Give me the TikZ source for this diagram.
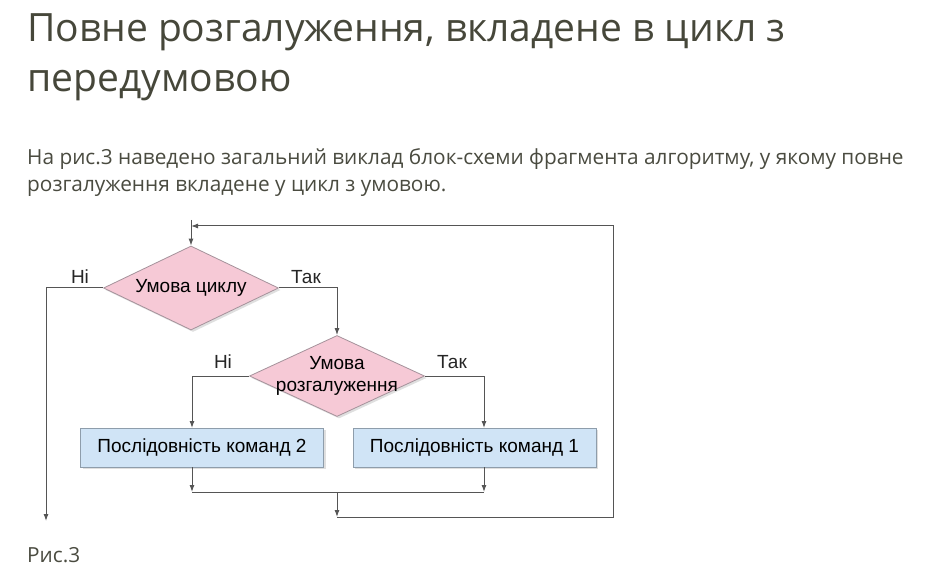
\documentclass[tikz,border=0pt]{standalone}
\usepackage{fontspec}
\setmainfont{Open Sans}
\newfontfamily\schemefont{Liberation Sans}
\usetikzlibrary{arrows.meta,shapes.geometric,shadows}
\definecolor{titlegray}{HTML}{46473A}
\definecolor{textgray}{HTML}{4A4B40}
\definecolor{condpink}{HTML}{F6C9D6}
\definecolor{condline}{HTML}{A5929B}
\definecolor{blockblue}{HTML}{D0E4F6}
\definecolor{blockline}{HTML}{8E9DAB}
\definecolor{flowgray}{HTML}{555555}
\tikzset{
  cond/.style={diamond,aspect=2.08,draw=condline,fill=condpink,line width=0.8pt,inner sep=0pt,
    minimum width=175pt,minimum height=84pt,align=center,
    font=\schemefont\fontsize{19}{22}\selectfont,
    drop shadow={shadow xshift=2pt,shadow yshift=-2pt,opacity=0.25}},
  cmdblock/.style={rectangle,draw=blockline,fill=blockblue,line width=0.8pt,
    minimum width=243pt,minimum height=39pt,inner sep=0pt,
    font=\schemefont\fontsize{19}{22}\selectfont,
    drop shadow={shadow xshift=2pt,shadow yshift=-2pt,opacity=0.25}},
  flowline/.style={draw=flowgray,line width=1pt},
  flowarrow/.style={flowline,-{Latex[length=7pt,width=5pt]}},
  branchlabel/.style={anchor=base,inner sep=0pt,text=black!85,
    font=\schemefont\fontsize{19}{22}\selectfont}
}
\begin{document}
\begin{tikzpicture}[x=1pt,y=-1pt]
\useasboundingbox[fill=white] (0,0) rectangle (940,577);
% heading and text
\node[anchor=base west,inner sep=0pt,text=titlegray,font=\fontsize{39}{50}\selectfont] (title1) at (27,42) {Повне розгалуження, вкладене в цикл з};
\node[anchor=base west,inner sep=0pt,text=titlegray,font=\fontsize{39}{50}\selectfont] (title2) at (27,92) {передумовою};
\node[anchor=base west,inner sep=0pt,text=textgray,font=\fontsize{20.8}{27}\selectfont] (para1) at (27,165) {На рис.3 наведено загальний виклад блок-схеми фрагмента алгоритму, у якому повне};
\node[anchor=base west,inner sep=0pt,text=textgray,font=\fontsize{20.8}{27}\selectfont] (para2) at (27,192) {розгалуження вкладене у цикл з умовою.};
\node[anchor=base west,inner sep=0pt,text=textgray,font=\fontsize{20.8}{27}\selectfont] (caption) at (27,562) {Рис.3};
% blocks
\node[cond] (loopcond) at (191,288) {Умова циклу};
\node[cond,minimum height=81pt,inner xsep=0pt,inner ysep=-11pt] (innercond) at (337,376) {Умова\\розгалуження};
\node[cmdblock] (block2) at (202,447.5) {Послідовність команд 2};
\node[cmdblock] (block1) at (474.5,447.5) {Послідовність команд 1};
% points of the lines
\coordinate (loopin) at (191,220);
\coordinate (loopback) at (191,226);
\coordinate (loopcorner) at (613,226);
\coordinate (exit) at (46,521);
\coordinate (b2in) at (192,428);
\coordinate (b1in) at (484,428);
\coordinate (join2) at (192,492);
\coordinate (join1) at (484,492);
\coordinate (merge) at (337,492);
\coordinate (mergeend) at (337,517);
% labels
\node[branchlabel] (no1) at (80,284) {Ні};
\node[branchlabel] (yes1) at (306,284) {Так};
\node[branchlabel] (no2) at (223,368) {Ні};
\node[branchlabel] (yes2) at (452,368) {Так};
% connectors
\draw[flowarrow] (loopin) -- (loopcond.north);
\draw[flowarrow] (loopcond.west) -| (exit);
\draw[flowarrow] (loopcond.east) -| (innercond.north);
\draw[flowarrow] (innercond.west) -| (b2in);
\draw[flowarrow] (innercond.east) -| (b1in);
\draw[flowarrow] (block2.south -| b2in) -- (join2);
\draw[flowarrow] (block1.south -| b1in) -- (join1);
\draw[flowline] (join2) -- (join1);
\draw[flowarrow] (merge) -- (mergeend);
\draw[flowarrow] (mergeend) -| (loopcorner) -- (loopback);
\end{tikzpicture}
\end{document}
